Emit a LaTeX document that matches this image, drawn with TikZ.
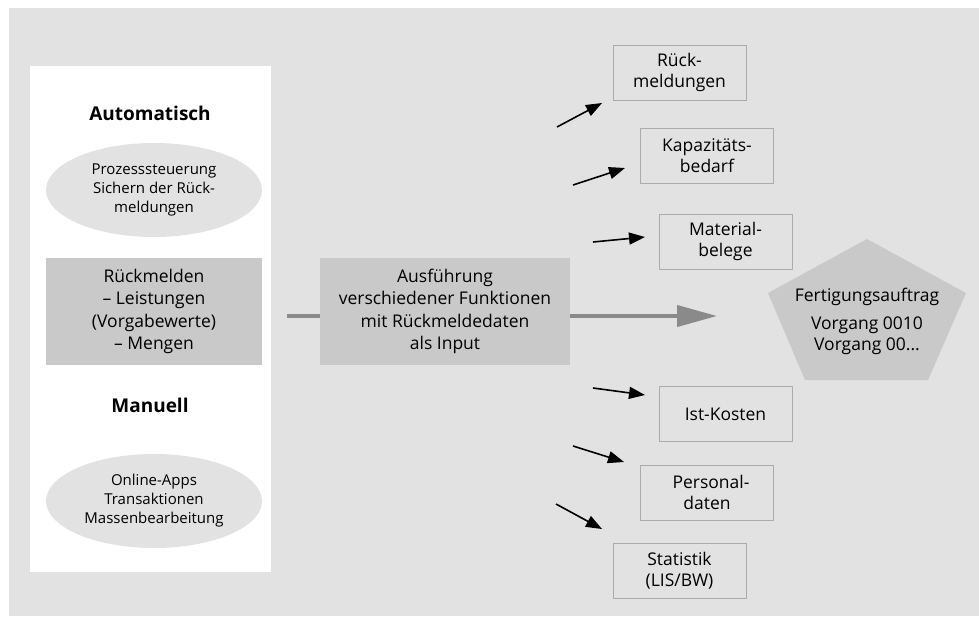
\documentclass[tikz,border=0pt]{standalone}
\usepackage{fontspec}
\setmainfont{Open Sans}
\usetikzlibrary{arrows.meta,shapes.geometric}
\definecolor{bggray}{HTML}{E2E2E2}
\definecolor{boxgray}{HTML}{C9C9C9}
\definecolor{linegray}{HTML}{ABABAB}
\definecolor{arrgray}{HTML}{8A8A8A}
\begin{document}
\begin{tikzpicture}[x=1pt,y=-1pt,
  every node/.style={inner sep=0pt, outer sep=0pt, align=center, text=black},
  txt/.style={font=\fontsize{17.5}{22.5}\selectfont},
  btxt/.style={font=\fontsize{17.5}{21}\selectfont},
  small/.style={font=\fontsize{15}{19}\selectfont},
  head/.style={font=\fontsize{19}{22}\selectfont\bfseries},
  ell/.style={ellipse, fill=bggray, minimum width=216pt, minimum height=94pt, small},
  graybox/.style={rectangle, fill=boxgray, txt},
  outbox/.style={rectangle, draw=linegray, line width=1pt, minimum width=133pt, minimum height=55pt, btxt},
  blk/.style={-{Triangle[length=16pt,width=12pt]}, line width=1.6pt, black},
]
\useasboundingbox (0,0) rectangle (979,616);
\fill[bggray] (9,8) rectangle (979,616);
\fill[white] (30,66) rectangle (271,572);

\node[head] (auto) at (150,113) {Automatisch};
\node[ell] (ell1) at (154,190) {Prozesssteuerung\\Sichern der Rück-\\meldungen};
\node[graybox, minimum width=216pt, minimum height=107pt] (rm) at (154,311.5) {Rückmelden\\– Leistungen\\(Vorgabewerte)\\– Mengen};
\node[head] (man) at (150,405) {Manuell};
\node[ell] (ell2) at (154,501) {Online-Apps\\Transaktionen\\Massenbearbeitung};

\node[graybox, minimum width=250pt, minimum height=107pt] (mid) at (445,311.5) {Ausführung\\verschiedener Funktionen\\mit Rückmeldedaten\\als Input};

\coordinate (s) at (287,316);
\coordinate (t) at (717,316);
\draw[arrgray, line width=4pt] (s) -- (s -| mid.west);
\draw[arrgray, line width=4pt, -{Triangle[length=40pt,width=21pt]}] (t -| mid.east) -- (t);

% pentagon
\fill[boxgray] (867,239) -- (966,293) -- (928,380) -- (805,380) -- (768,293) -- cycle;
\node[btxt] (fa) at (867,297) {Fertigungsauftrag};
\node[btxt] (vg) at (867,336) {Vorgang 0010\\Vorgang 00...};

% output boxes
\node[outbox] (b1) at (679.5,72.5) {Rück-\\meldungen};
\node[outbox] (b2) at (707,156) {Kapazitäts-\\bedarf};
\node[outbox] (b3) at (725.5,241.5) {Material-\\belege};
\node[outbox] (b4) at (725.5,414) {Ist-Kosten};
\node[outbox] (b5) at (707,492.5) {\hspace*{8pt}Personal-\\daten};
\node[outbox] (b6) at (679.5,570.5) {Statistik\\(LIS/BW)};

% small arrows
\coordinate (a1s) at (557,127); \coordinate (a1e) at (602,103);
\coordinate (a2s) at (573,185); \coordinate (a2e) at (625,168);
\coordinate (a3s) at (593,242); \coordinate (a3e) at (645,237);
\coordinate (a4s) at (593,388); \coordinate (a4e) at (645,395);
\coordinate (a5s) at (573,446); \coordinate (a5e) at (624,462);
\coordinate (a6s) at (556,504); \coordinate (a6e) at (602,529);
\draw[blk] (a1s) -- (a1e);
\draw[blk] (a2s) -- (a2e);
\draw[blk] (a3s) -- (a3e);
\draw[blk] (a4s) -- (a4e);
\draw[blk] (a5s) -- (a5e);
\draw[blk] (a6s) -- (a6e);
\end{tikzpicture}
\end{document}
